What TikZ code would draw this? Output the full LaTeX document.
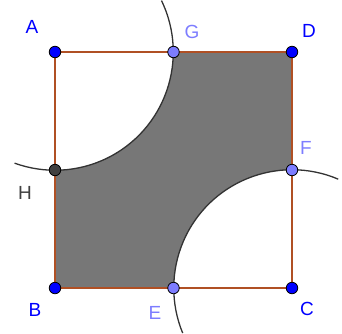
\documentclass[tikz,border=0pt]{standalone}
\usepackage{fontspec}
\setsansfont{Liberation Sans}
\usetikzlibrary{calc}

\definecolor{edgebrown}{RGB}{176,80,36}
\definecolor{freeblue}{RGB}{0,0,255}
\definecolor{depblue}{RGB}{125,125,255}
\definecolor{ptgray}{RGB}{64,64,64}
\definecolor{regiongray}{RGB}{119,119,119}
\tikzset{
 pt/.style={circle,draw=black,line width=.8pt,inner sep=0pt,minimum size=11.5pt},
 lbl/.style={font=\sffamily\fontsize{19}{19}\selectfont,inner sep=0pt},
 circ/.style={draw=black!80,line width=1.3pt},
 side/.style={draw=edgebrown,line width=1.5pt}
}

\begin{document}
\begin{tikzpicture}[x=1pt,y=1pt]
\useasboundingbox (0,0) rectangle (342,-333);
\def\r{118.25}
\coordinate (A) at (55,-52);
\coordinate (D) at (292,-52);
\coordinate (B) at (55,-288);
\coordinate (C) at (292,-288);
\coordinate (G) at (173.5,-52);
\coordinate (H) at (55,-170);
\coordinate (F) at (292,-170);
\coordinate (E) at (173.5,-288);
\fill[regiongray] (G) -- (D) -- (F) arc[start angle=90,end angle=180,radius=\r] -- (B) -- (H) arc[start angle=-90,end angle=0,radius=\r] -- cycle;
\draw[circ] ($(A)+(25.8:\r)$) arc[start angle=25.8,end angle=-110,radius=\r];
\draw[circ] ($(C)+(67:\r)$) arc[start angle=67,end angle=202.4,radius=\r];
\draw[side] (A) -- (D);
\draw[side] (D) -- (C);
\draw[side] (C) -- (B);
\draw[side] (B) -- (A);
\foreach \p in {A,B,C,D}
 \node[pt,fill=freeblue] (p\p) at (\p) {};
\foreach \p in {E,F,G}
 \node[pt,fill=depblue] (p\p) at (\p) {};
\node[pt,fill=ptgray] (pH) at (H) {};
\node[lbl,text=freeblue] (lA) at (32,-27) {A};
\node[lbl,text=freeblue] (lD) at (309,-31) {D};
\node[lbl,text=freeblue] (lB) at (35,-310) {B};
\node[lbl,text=freeblue] (lC) at (307,-309) {C};
\node[lbl,text=depblue] (lG) at (192,-32) {G};
\node[lbl,text=depblue] (lF) at (306,-148) {F};
\node[lbl,text=depblue] (lE) at (155,-313) {E};
\node[lbl,text=ptgray] (lH) at (25,-193) {H};
\end{tikzpicture}
\end{document}
